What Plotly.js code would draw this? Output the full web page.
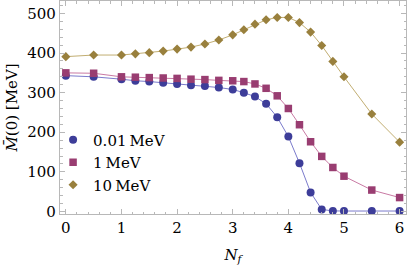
<!DOCTYPE html>
<html>
<head>
<meta charset="utf-8">
<script src="https://cdn.plot.ly/plotly-3.0.1.min.js"></script>
<style>html,body{margin:0;padding:0;background:#fff;}#chart{width:407px;height:271px;}</style>
</head>
<body>
<div id="chart"></div>
<script>
var nf = [0, 0.5, 1, 1.25, 1.5, 1.75, 2, 2.25, 2.5, 2.75, 3, 3.2, 3.4, 3.6, 3.8, 4, 4.2, 4.4, 4.6, 4.8, 5, 5.5, 6];
var m001 = [343, 340, 334, 330, 328, 325, 322, 319, 317, 313, 308, 300, 290, 272, 238, 189, 122, 48, 5, 1.3, 1, 1, 1];
var m1 = [350, 349, 340, 339, 338, 337, 336, 334, 333, 331, 330, 328, 322, 311, 292, 260, 219, 176, 139, 111, 89, 54, 35];
var m10 = [391, 395, 395, 398, 401, 405, 410, 415, 423, 433, 446, 459, 473, 484, 490, 490, 477, 453, 419, 379, 340, 246, 175];
var names = ['0.01\u2009MeV', '1\u2009MeV', '10\u2009MeV'];
var series = [m001, m1, m10];
var lineColors = ['#7b7bcc', '#c97aa4', '#c2ae72'];
var markColors = ['#3d3d99', '#993d71', '#99803d'];
var symbols = ['circle', 'square', 'diamond'];
var sizes = [8, 7.5, 7];

var serif = 'DejaVu Serif';
var fs = 15;
var frame = '#b8b8b8';

var traces = [];
for (var i = 0; i < 3; i++) {
  traces.push({x: nf, y: series[i], mode: 'lines', type: 'scatter', showlegend: false,
    line: {color: lineColors[i], width: 1}, hoverinfo: 'skip'});
}
for (var i = 0; i < 3; i++) {
  traces.push({x: nf, y: series[i], name: names[i], mode: 'markers', type: 'scatter',
    marker: {color: markColors[i], size: sizes[i], symbol: symbols[i]}});
}

var layout = {
  width: 407, height: 271,
  margin: {l: 60, r: 1, t: 1, b: 57},
  paper_bgcolor: '#fff', plot_bgcolor: '#fff',
  font: {family: serif, size: fs, color: '#000'},
  showlegend: true,
  legend: {x: -0.02, y: 0.425, xanchor: 'left', yanchor: 'top', bgcolor: 'rgba(0,0,0,0)',
           font: {family: serif, size: fs, color: '#000'}, itemwidth: 30, tracegroupgap: 0},
  xaxis: {
    range: [-0.105, 6.115], showgrid: false, zeroline: false,
    showline: true, linecolor: frame, linewidth: 1.2, mirror: 'ticks',
    ticks: 'inside', ticklen: 5, tickcolor: frame, tickwidth: 1,
    tickvals: [0, 1, 2, 3, 4, 5, 6], ticktext: ['0', '1', '2', '3', '4', '5', '6'],
    minor: {dtick: 0.2, tick0: 0, ticks: 'inside', ticklen: 2.5, tickcolor: frame, showgrid: false},
    tickfont: {family: serif, size: fs, color: '#000'},
    title: {text: '<i>N<sub>f</sub></i>', font: {family: serif, size: fs, color: '#000'}, standoff: 13}
  },
  yaxis: {
    range: [-6.5, 531.5], showgrid: false, zeroline: false,
    showline: true, linecolor: frame, linewidth: 1.2, mirror: 'ticks',
    ticks: 'inside', ticklen: 5, tickcolor: frame, tickwidth: 1,
    tickvals: [0, 100, 200, 300, 400, 500], ticktext: ['0', '100', '200', '300', '400', '500'],
    minor: {dtick: 20, tick0: 0, ticks: 'inside', ticklen: 2.5, tickcolor: frame, showgrid: false},
    tickfont: {family: serif, size: fs, color: '#000'},
    title: {text: '<i>M\u0304</i>(0) [MeV]', font: {family: serif, size: fs, color: '#000'}, standoff: 6}
  }
};

Plotly.newPlot('chart', traces, layout, {displayModeBar: false, staticPlot: true});
</script>
</body>
</html>
